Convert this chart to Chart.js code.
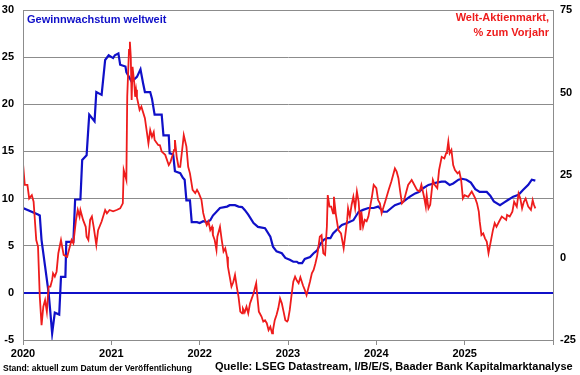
<!DOCTYPE html>
<html>
<head>
<meta charset="utf-8">
<script src="https://cdn.jsdelivr.net/npm/chart.js@4/dist/chart.umd.min.js"></script>
<style>
  body { margin: 0; background: #fff; }
  canvas { display: block; }
</style>
</head>
<body>
<canvas id="chart" width="580" height="375"></canvas>
<script>
// x axis years shown as tick labels
const tickYears = [2020, 2021, 2022, 2023, 2024, 2025, 2026]

// Gewinnwachstum weltweit (left axis)
const blueYears = [2020.00, 2020.17, 2020.19, 2020.21, 2020.25, 2020.29, 2020.31, 2020.33, 2020.36, 2020.41,
  2020.43, 2020.48, 2020.49, 2020.57, 2020.59, 2020.65, 2020.67, 2020.72, 2020.74, 2020.75,
  2020.81, 2020.83, 2020.89, 2020.93, 2020.97, 2021.02, 2021.04, 2021.08, 2021.10, 2021.16,
  2021.17, 2021.23, 2021.29, 2021.33, 2021.36, 2021.38, 2021.44, 2021.46, 2021.49, 2021.57,
  2021.59, 2021.65, 2021.66, 2021.70, 2021.72, 2021.78, 2021.81, 2021.83, 2021.85, 2021.89,
  2021.91, 2021.97, 2022.00, 2022.04, 2022.08, 2022.12, 2022.15, 2022.23, 2022.31, 2022.34,
  2022.40, 2022.44, 2022.48, 2022.51, 2022.55, 2022.61, 2022.66, 2022.74, 2022.80, 2022.83,
  2022.87, 2022.93, 2022.97, 2023.02, 2023.06, 2023.10, 2023.12, 2023.16, 2023.19, 2023.25,
  2023.29, 2023.33, 2023.36, 2023.40, 2023.44, 2023.48, 2023.51, 2023.57, 2023.61, 2023.67,
  2023.74, 2023.80, 2023.85, 2023.91, 2023.97, 2024.02, 2024.08, 2024.12, 2024.17, 2024.21,
  2024.27, 2024.31, 2024.38, 2024.44, 2024.48, 2024.53, 2024.59, 2024.65, 2024.68, 2024.74,
  2024.78, 2024.83, 2024.87, 2024.93, 2024.97, 2025.02, 2025.07, 2025.12, 2025.17, 2025.25,
  2025.29, 2025.33, 2025.40, 2025.44, 2025.49, 2025.55, 2025.61, 2025.66, 2025.72, 2025.76,
  2025.80]
const blueValues = [9.0, 8.3, 8.2, 5.6, 2.8, 0.0, -2.1, -4.3, -2.1, -2.3,
  1.7, 1.7, 5.4, 5.4, 9.9, 9.9, 14.1, 14.6, 17.5, 18.9,
  18.2, 21.3, 21.0, 24.7, 25.2, 24.9, 25.2, 25.4, 24.2, 24.0,
  23.4, 22.4, 22.9, 23.7, 22.2, 21.3, 21.3, 20.6, 18.9, 18.9,
  16.7, 16.7, 14.8, 14.7, 12.9, 12.7, 12.2, 12.0, 9.8, 9.8,
  7.5, 7.5, 7.4, 7.6, 7.5, 7.7, 8.2, 9.0, 9.15, 9.3,
  9.3, 9.15, 9.1, 8.8, 8.3, 7.4, 7.0, 6.85, 5.95, 4.9,
  4.4, 4.2, 3.7, 3.5, 3.3, 3.3, 3.15, 3.15, 3.6, 3.8,
  4.2, 4.5, 5.1, 5.6, 5.8, 5.8, 6.3, 6.85, 7.2, 7.4,
  7.7, 8.6, 8.8, 9.0, 9.0, 9.15, 8.6, 8.6, 9.0, 9.3,
  9.5, 9.7, 10.2, 10.55, 10.7, 11.1, 11.45, 11.6, 11.7, 11.8,
  11.8, 11.45, 11.6, 12.0, 12.1, 12.0, 11.7, 11.0, 10.7, 10.7,
  10.3, 9.7, 9.3, 9.55, 9.85, 10.2, 10.4, 10.9, 11.45, 12.0,
  11.9]

// Welt-Aktienmarkt, % zum Vorjahr (right axis)
const redYears = [2020.00, 2020.02, 2020.05, 2020.07, 2020.10, 2020.12, 2020.15, 2020.17, 2020.19, 2020.21,
  2020.23, 2020.25, 2020.27, 2020.29, 2020.31, 2020.33, 2020.34, 2020.36, 2020.38, 2020.40,
  2020.43, 2020.46, 2020.50, 2020.52, 2020.55, 2020.57, 2020.60, 2020.62, 2020.64, 2020.65,
  2020.68, 2020.71, 2020.72, 2020.74, 2020.76, 2020.78, 2020.80, 2020.83, 2020.85, 2020.89,
  2020.93, 2020.95, 2020.98, 2021.02, 2021.06, 2021.10, 2021.13, 2021.14, 2021.17, 2021.18,
  2021.20, 2021.21, 2021.22, 2021.23, 2021.24, 2021.26, 2021.27, 2021.28, 2021.29, 2021.32,
  2021.34, 2021.38, 2021.42, 2021.44, 2021.46, 2021.48, 2021.49, 2021.53, 2021.55, 2021.57,
  2021.61, 2021.65, 2021.67, 2021.70, 2021.71, 2021.72, 2021.74, 2021.76, 2021.78, 2021.81,
  2021.82, 2021.85, 2021.87, 2021.89, 2021.92, 2021.95, 2021.97, 2021.99, 2022.02, 2022.04,
  2022.06, 2022.08, 2022.10, 2022.12, 2022.14, 2022.15, 2022.17, 2022.19, 2022.20, 2022.23,
  2022.25, 2022.27, 2022.29, 2022.31, 2022.32, 2022.34, 2022.36, 2022.38, 2022.40, 2022.42,
  2022.44, 2022.46, 2022.48, 2022.49, 2022.51, 2022.53, 2022.55, 2022.57, 2022.59, 2022.61,
  2022.63, 2022.64, 2022.65, 2022.67, 2022.68, 2022.70, 2022.72, 2022.74, 2022.76, 2022.78,
  2022.80, 2022.82, 2022.83, 2022.85, 2022.87, 2022.89, 2022.91, 2022.93, 2022.95, 2022.97,
  2022.99, 2023.00, 2023.02, 2023.04, 2023.06, 2023.08, 2023.10, 2023.12, 2023.14, 2023.17,
  2023.19, 2023.21, 2023.23, 2023.25, 2023.27, 2023.29, 2023.31, 2023.33, 2023.34, 2023.36,
  2023.38, 2023.40, 2023.42, 2023.44, 2023.45, 2023.47, 2023.49, 2023.51, 2023.52, 2023.54,
  2023.57, 2023.60, 2023.63, 2023.67, 2023.68, 2023.70, 2023.72, 2023.74, 2023.76, 2023.78,
  2023.80, 2023.82, 2023.83, 2023.85, 2023.87, 2023.89, 2023.91, 2023.93, 2023.95, 2023.97,
  2024.00, 2024.02, 2024.04, 2024.06, 2024.10, 2024.14, 2024.17, 2024.19, 2024.21, 2024.23,
  2024.25, 2024.27, 2024.29, 2024.31, 2024.34, 2024.36, 2024.40, 2024.42, 2024.46, 2024.49,
  2024.51, 2024.54, 2024.56, 2024.57, 2024.59, 2024.61, 2024.64, 2024.66, 2024.69, 2024.71,
  2024.74, 2024.77, 2024.79, 2024.80, 2024.815, 2024.83, 2024.85, 2024.87, 2024.89, 2024.92,
  2024.94, 2024.96, 2024.98, 2025.00, 2025.04, 2025.08, 2025.10, 2025.12, 2025.14, 2025.16,
  2025.17, 2025.19, 2025.21, 2025.23, 2025.25, 2025.27, 2025.30, 2025.32, 2025.34, 2025.36,
  2025.39, 2025.42, 2025.44, 2025.47, 2025.48, 2025.51, 2025.54, 2025.56, 2025.59, 2025.61,
  2025.63, 2025.65, 2025.67, 2025.69, 2025.72, 2025.75, 2025.77, 2025.785, 2025.80]
const redValues = [28.5, 22.0, 22.0, 17.9, 18.9, 16.9, 5.3, 3.3, -11.9, -20.5,
  -14.9, -12.9, -16.4, -8.8, -8.8, -6.8, -4.8, -5.8, -4.3, 1.3,
  5.3, 0.8, 0.2, 2.3, 5.3, 4.3, 11.4, 14.4, 12.4, 14.4,
  11.4, 9.3, 6.3, 5.3, 11.4, 12.4, 9.3, 3.8, 8.3, 10.9,
  14.4, 13.4, 14.4, 14.0, 14.4, 14.9, 16.4, 26.5, 23.5, 48.7,
  62.9, 65.4, 60.9, 47.7, 57.8, 52.8, 48.7, 50.8, 48.5, 44.7,
  45.7, 42.2, 34.6, 38.6, 36.6, 38.0, 35.6, 34.1, 34.0, 32.1,
  31.1, 28.0, 29.0, 31.6, 32.6, 35.6, 30.5, 27.5, 27.5, 34.6,
  37.1, 33.6, 27.5, 25.5, 20.5, 19.5, 20.5, 19.5, 17.5, 13.5,
  11.4, 9.8, 10.9, 8.3, 9.3, 6.8, 5.3, 2.3, 6.3, 9.3,
  5.3, 1.8, 2.8, 0.2, -2.8, -5.8, -8.8, -7.5, -5.3, -8.8,
  -11.9, -16.4, -16.9, -15.5, -16.6, -14.9, -16.9, -13.9, -12.4, -10.9,
  -8.8, -7.8, -10.9, -16.4, -16.9, -17.9, -19.4, -19.0, -19.9, -22.0,
  -21.0, -23.0, -22.0, -19.0, -17.4, -15.4, -12.4, -13.9, -16.4, -19.0,
  -19.4, -19.0, -15.9, -11.4, -7.3, -5.8, -7.0, -7.8, -6.0, -8.5,
  -9.8, -11.4, -9.3, -7.2, -4.8, -3.8, -1.8, 0.5, 2.3, 6.3,
  6.8, 1.3, 0.8, 9.3, 18.9, 15.4, 15.4, 13.4, 18.4, 13.4,
  8.3, 7.3, 2.8, 11.4, 14.9, 12.4, 15.9, 18.4, 14.9, 20.0,
  16.9, 8.3, 13.9, 9.3, 11.4, 11.0, 12.4, 15.4, 18.4, 22.0,
  21.0, 17.4, 16.4, 13.4, 16.9, 20.5, 23.0, 25.0, 27.0, 26.0,
  24.0, 20.0, 16.4, 17.0, 20.0, 22.0, 23.5, 22.5, 20.5, 20.0,
  22.0, 18.4, 15.4, 18.9, 14.9, 16.0, 23.5, 22.0, 21.0, 26.5,
  30.5, 30.0, 31.6, 32.1, 35.1, 31.6, 32.6, 28.0, 26.5, 25.5,
  26.0, 23.5, 17.9, 18.9, 18.4, 20.0, 19.0, 17.9, 16.4, 13.9,
  11.0, 6.8, 7.3, 5.8, 4.8, 1.3, 5.5, 8.3, 10.4, 9.3,
  10.9, 12.4, 12.0, 11.4, 12.9, 12.4, 13.9, 16.9, 15.4, 19.4,
  17.9, 14.9, 16.9, 17.9, 15.4, 14.4, 17.4, 15.9, 14.9]

const blueLabel = "Gewinnwachstum weltweit"
const redLabel = ["Welt-Aktienmarkt,", "% zum Vorjahr"]
const standText = "Stand: aktuell zum Datum der Veröffentlichung"
const sourceText = "Quelle: LSEG Datastream, I/B/E/S, Baader Bank Kapitalmarktanalyse"

const BLUE = "#1010c8"
const RED = "#ee1c1c"
const GRID = "#8c8c8c"
const FONT = "'Liberation Sans', Arial, sans-serif"

function toPoints(xs, ys) {
  return xs.map(function (x, i) {
    return { x: x, y: ys[i] }
  })
}

// no extra room above/below the value axes, the plot area is pinned by layout padding
function pinY(width) {
  return function (scale) {
    scale.width = width
    scale.paddingTop = 0
    scale.paddingBottom = 0
  }
}

// frame around the plot + texts
const extras = {
  id: "extras",
  afterDatasetsDraw(chart) {
    const ctx = chart.ctx
    const a = chart.chartArea
    ctx.save()
    ctx.strokeStyle = GRID
    ctx.lineWidth = 1
    ctx.strokeRect(Math.round(a.left) + 0.5, Math.round(a.top) + 0.5, Math.round(a.right - a.left), Math.round(a.bottom - a.top))

    ctx.font = "bold 11px " + FONT
    ctx.textBaseline = "alphabetic"
    ctx.fillStyle = BLUE
    ctx.textAlign = "left"
    ctx.fillText(blueLabel, a.left + 4, a.top + 13)

    ctx.fillStyle = RED
    ctx.textAlign = "right"
    ctx.fillText(redLabel[0], a.right - 4, a.top + 11)
    ctx.fillText(redLabel[1], a.right - 4, a.top + 26)

    ctx.fillStyle = "#000"
    ctx.textAlign = "left"
    ctx.font = "bold 8.5px " + FONT
    ctx.fillText(standText, 3, 371, 190)
    ctx.font = "bold 11px " + FONT
    ctx.fillText(sourceText, 215, 370, 360)
    ctx.restore()
  },
}

new Chart(document.getElementById("chart"), {
  type: "line",
  data: {
    datasets: [
      {
        label: redLabel.join(" "),
        data: toPoints(redYears, redValues),
        borderColor: RED,
        borderWidth: 1.8,
        pointRadius: 0,
        yAxisID: "y1",
        order: 1,
      },
      {
        label: blueLabel,
        data: toPoints(blueYears, blueValues),
        borderColor: BLUE,
        borderWidth: 2.2,
        pointRadius: 0,
        yAxisID: "y",
        order: 2,
      },
    ],
  },
  options: {
    responsive: false,
    animation: false,
    layout: { padding: { top: 10, bottom: 5, left: 0, right: 0 } },
    plugins: {
      legend: { display: false },
      tooltip: { enabled: false },
    },
    scales: {
      x: {
        type: "linear",
        min: 2020,
        max: 2026,
        afterBuildTicks(scale) {
          scale.ticks = tickYears.map(function (v) { return { value: v } })
        },
        afterFit(scale) {
          scale.height = 30
          scale.paddingLeft = 0
          scale.paddingRight = 0
        },
        grid: { drawOnChartArea: false, color: GRID, tickLength: 5 },
        border: { color: GRID },
        ticks: {
          color: "#000",
          font: { family: FONT, size: 11, weight: "bold" },
          padding: 2,
          maxRotation: 0,
          callback: function (v) { return v < 2026 ? String(v) : "" },
        },
      },
      y: {
        position: "left",
        min: -5,
        max: 30,
        afterFit: pinY(23),
        grid: {
          drawTicks: false,
          color: function (c) { return c.tick.value === 0 ? BLUE : GRID },
          lineWidth: function (c) { return c.tick.value === 0 ? 2 : 1 },
        },
        border: { color: GRID },
        ticks: {
          stepSize: 5,
          color: "#000",
          padding: 9,
          font: { family: FONT, size: 11, weight: "bold" },
        },
      },
      y1: {
        position: "right",
        min: -25,
        max: 75,
        afterFit: pinY(27),
        grid: { drawOnChartArea: false, drawTicks: false },
        border: { color: GRID },
        ticks: {
          stepSize: 25,
          color: "#000",
          padding: 7,
          font: { family: FONT, size: 11, weight: "bold" },
        },
      },
    },
  },
  plugins: [extras],
})
</script>
</body>
</html>
